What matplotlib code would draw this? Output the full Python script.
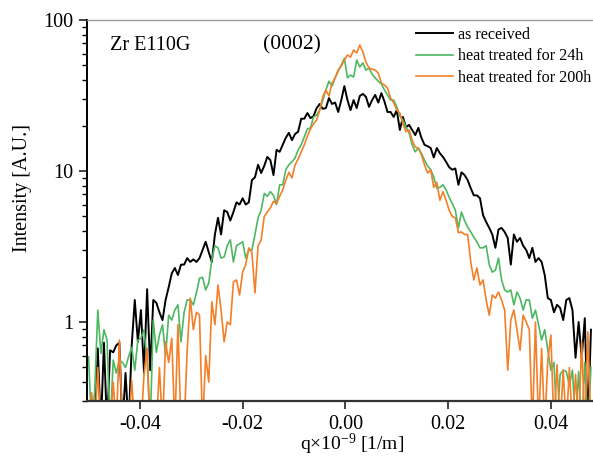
import numpy as np
import matplotlib
matplotlib.use("Agg")
from matplotlib import pyplot as plt
from matplotlib.ticker import FixedLocator, FixedFormatter, LogLocator, NullFormatter

plt.rcParams['font.family'] = ['Liberation Serif', 'DejaVu Serif']
plt.rcParams['mathtext.fontset'] = 'custom'
plt.rcParams['mathtext.rm'] = 'Liberation Serif'
plt.rcParams['mathtext.it'] = 'Liberation Serif:italic'

# q sampling of the measurement (x 10^-9 1/m)
q_start = -0.0500
q_step = 0.0006
n_pts = 164

as_received = [
    0.2, 0.2, 0.2, 0.67, 0.2, 0.73, 0.2, 0.65, 0.63, 0.70,
    0.73, 0.2, 0.46, 0.2, 0.70, 1.40, 0.74, 1.20, 0.46, 1.65,
    0.48, 1.40, 1.34, 1.16, 1.03, 1.40, 1.70, 2.10, 2.28, 2.05,
    2.40, 2.40, 2.65, 2.50, 2.60, 2.50, 2.65, 3.00, 3.40, 2.90,
    2.50, 3.80, 4.90, 3.80, 5.50, 5.35, 4.70, 5.35, 6.20, 6.00,
    6.60, 6.00, 6.20, 8.70, 9.10, 11.0, 9.70, 10.8, 12.4, 11.8,
    9.40, 13.8, 13.4, 14.9, 16.6, 17.9, 16.0, 17.6, 18.2, 22.2,
    22.2, 24.2, 22.4, 23.1, 26.1, 27.8, 25.8, 26.1, 30.4, 27.8,
    28.4, 24.6, 29.5, 36.5, 29.5, 25.3, 29.5, 26.1, 31.4, 32.4,
    31.0, 26.6, 29.5, 31.9, 28.4, 32.8, 28.9, 24.6, 24.6, 22.8,
    25.3, 18.7, 22.8, 19.5, 20.2, 18.7, 17.3, 19.3, 16.6, 14.9,
    14.6, 14.2, 12.3, 14.2, 13.1, 12.4, 11.5, 10.6, 10.2, 10.4,
    8.10, 9.80, 9.40, 8.70, 7.70, 6.90, 6.90, 6.60, 5.10, 4.60,
    4.20, 3.80, 3.10, 4.10, 4.20, 3.95, 3.60, 2.40, 3.80, 3.40,
    3.60, 3.20, 3.00, 2.65, 3.10, 2.50, 2.65, 2.50, 2.05, 1.44,
    1.40, 1.16, 1.30, 1.24, 1.03, 1.40, 1.44, 1.20, 0.58, 1.00,
    0.58, 1.06, 0.2, 0.89]

treated_24h = [
    0.59, 0.2, 0.35, 1.20, 0.62, 0.89, 0.76, 0.2, 0.56, 0.46,
    0.56, 0.54, 0.50, 0.59, 0.68, 0.48, 0.76, 0.78, 0.89, 0.56,
    0.2, 1.03, 0.63, 0.82, 0.96, 0.60, 1.11, 1.03, 1.20, 1.30,
    0.74, 1.16, 1.40, 1.40, 1.30, 1.56, 1.95, 1.98, 1.63, 1.81,
    2.60, 3.20, 3.10, 2.65, 2.70, 3.20, 3.50, 2.50, 3.20, 3.30,
    3.40, 2.65, 3.00, 3.00, 3.80, 4.90, 5.50, 7.10, 6.80, 7.30,
    6.90, 6.00, 8.10, 8.10, 10.2, 11.0, 11.5, 12.2, 13.8, 14.9,
    16.8, 19.0, 19.3, 22.8, 23.5, 25.3, 29.5, 34.4, 39.3, 36.5,
    41.4, 46.0, 50.3, 55.8, 41.4, 43.2, 41.9, 54.3, 48.8, 52.0,
    46.6, 48.0, 43.8, 41.4, 39.3, 37.7, 34.4, 31.9, 29.5, 29.5,
    26.6, 23.1, 21.8, 19.5, 17.9, 14.9, 13.4, 14.2, 13.1, 11.8,
    10.8, 10.2, 9.10, 7.70, 7.80, 8.10, 7.50, 6.70, 6.10, 5.50,
    4.20, 5.35, 4.70, 4.25, 3.95, 3.65, 3.40, 3.10, 3.10, 3.20,
    2.40, 2.14, 2.20, 2.65, 1.90, 1.63, 1.58, 1.63, 1.30, 1.58,
    1.44, 1.20, 1.40, 1.40, 1.06, 1.20, 0.96, 0.76, 0.89, 0.65,
    0.48, 0.54, 0.2, 0.45, 0.48, 0.47, 0.38, 0.48, 0.2, 0.47,
    0.2, 0.54, 0.2, 0.50]

treated_200h = [
    0.2, 0.34, 0.2, 0.50, 0.2, 0.2, 0.2, 0.2, 0.40, 0.2,
    0.76, 0.2, 0.2, 0.2, 0.41, 0.2, 0.2, 0.2, 0.45, 0.67,
    0.2, 0.2, 0.2, 0.50, 0.2, 0.74, 0.54, 0.78, 0.2, 0.96,
    0.2, 0.2, 0.65, 1.44, 0.89, 1.16, 1.11, 0.2, 0.60, 0.40,
    1.36, 0.96, 1.76, 1.20, 0.74, 1.00, 0.96, 1.84, 1.90, 1.51,
    2.14, 2.40, 3.10, 2.90, 1.56, 3.20, 3.50, 5.00, 5.35, 5.70,
    6.30, 6.10, 6.80, 7.50, 8.70, 9.80, 9.00, 11.0, 12.0, 13.4,
    14.9, 17.0, 19.0, 20.5, 21.8, 25.3, 31.0, 34.4, 31.4, 38.2,
    41.4, 46.6, 49.5, 54.3, 58.6, 56.8, 63.3, 60.4, 68.3, 61.5,
    52.6, 48.0, 47.3, 46.6, 44.5, 38.2, 37.1, 35.4, 30.4, 28.4,
    25.3, 24.2, 20.5, 18.2, 18.7, 16.0, 14.4, 14.2, 12.8, 11.0,
    9.70, 10.2, 7.80, 8.40, 6.40, 7.30, 6.40, 5.50, 5.00, 4.90,
    3.90, 3.95, 3.80, 3.80, 2.50, 1.90, 2.28, 1.76, 1.90, 1.40,
    1.11, 1.51, 1.44, 1.58, 1.40, 1.20, 0.48, 1.03, 1.20, 0.89,
    0.65, 1.11, 1.00, 0.89, 0.2, 1.00, 0.2, 0.67, 0.2, 0.56,
    0.82, 0.2, 0.52, 0.2, 0.48, 0.2, 0.50, 0.2, 0.45, 0.2,
    0.74, 0.2, 0.86, 0.2]

x_ticks = [-0.04, -0.02, 0.0, 0.02, 0.04]
x_ticklabels = ['-0.04', '-0.02', '0.00', '0.02', '0.04']
y_ticks = [1, 10, 100]
y_ticklabels = ['1', '10', '100']

q = q_start + q_step * np.arange(n_pts)

fig = plt.figure(figsize=(5.93, 4.59), dpi=100)
ax = fig.add_axes([87 / 593, 58 / 459, 506 / 593, 381 / 459])

ax.plot(q, as_received, color='black', lw=1.4, label='as received')
ax.plot(q, treated_24h, color='#4db862', lw=1.2, label='heat treated for 24h')
ax.plot(q, treated_200h, color='#f37f27', lw=1.2, label='heat treated for 200h')

ax.set_yscale('log')
ax.set_xlim(-0.0503, 0.0482)
ax.set_ylim(0.3, 100)

ax.xaxis.set_major_locator(FixedLocator(x_ticks))
ax.xaxis.set_major_formatter(FixedFormatter(x_ticklabels))
ax.yaxis.set_major_locator(FixedLocator(y_ticks))
ax.yaxis.set_major_formatter(FixedFormatter(y_ticklabels))
ax.yaxis.set_minor_locator(LogLocator(base=10, subs=np.arange(2, 10)))
ax.yaxis.set_minor_formatter(NullFormatter())

ax.tick_params(which='major', direction='out', length=6, width=1.2, labelsize=14.5,
               top=False, right=False, color='#222222')
ax.tick_params(axis='x', which='major', pad=4)
ax.tick_params(which='minor', direction='out', length=3.5, width=1.0, top=False, right=False)

ax.spines['right'].set_visible(False)
ax.spines['top'].set_color('#9a9a9a')
ax.spines['top'].set_linewidth(1.0)
ax.spines['left'].set_linewidth(1.4)
ax.spines['bottom'].set_linewidth(1.6)
ax.spines['bottom'].set_color('#333333')

ax.set_xlabel('q×10$^{-9}$ [1/m]', fontsize=14)
ax.set_ylabel('Intensity [A.U.]', fontsize=14.5)
ax.xaxis.set_label_coords(0.524, -0.082)
ax.yaxis.set_label_coords(-0.108, 0.56)

ax.text(0.045, 0.934, 'Zr E110G', transform=ax.transAxes, fontsize=14.5, va='center', ha='left')
ax.text(0.348, 0.934, '(0002)', transform=ax.transAxes, fontsize=15.5, va='center', ha='left')

ax.legend(loc='upper left', bbox_to_anchor=(0.650, 0.982), frameon=False, fontsize=11.6,
          handlelength=2.3, handletextpad=0.3, labelspacing=0.35, borderpad=0, borderaxespad=0)

fig.savefig('out.png', dpi=100)
